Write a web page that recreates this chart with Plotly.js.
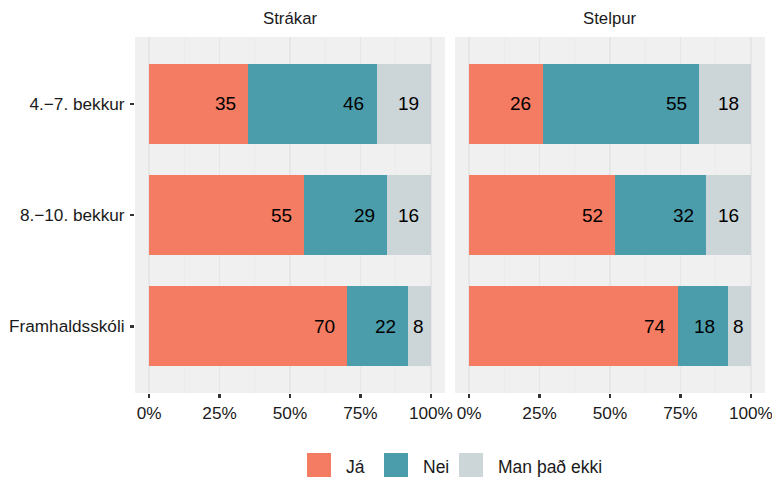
<!DOCTYPE html>
<html><head><meta charset="utf-8">
<script src="https://cdn.plot.ly/plotly-3.0.1.min.js"></script>
<style>html,body{margin:0;padding:0;background:#fff}#chart{width:772px;height:477px}</style>
</head><body><div id="chart"></div>
<script>
const categories = ["4.−7. bekkur", "8.−10. bekkur", "Framhaldsskóli"];
const panels = ["Strákar", "Stelpur"];
const seriesNames = ["Já", "Nei", "Man það ekki"];
const seriesColors = ["#F47C62", "#4C9DAB", "#CCD5D7"];
// values in percent, per panel
const straakarJa = [35.1, 55, 70.4];
const straakarNei = [45.6, 29.3, 21.6];
const straakarMan = [19.3, 15.7, 8.0];
const stelpurJa = [26.2, 51.8, 74.1];
const stelpurNei = [55.4, 32.3, 17.6];
const stelpurMan = [18.4, 15.9, 8.3];

const panelData = [[straakarJa, straakarNei, straakarMan], [stelpurJa, stelpurNei, stelpurMan]];
const font = "Liberation Sans, Arial, sans-serif";
const labelSize = 19;
const traces = [];
const annotations = [];
panelData.forEach((series, p) => {
  const xa = p === 0 ? "x" : "x2", ya = p === 0 ? "y" : "y2";
  const cum = categories.map(() => 0);
  series.forEach((vals, s) => {
    traces.push({
      type: "bar", orientation: "h",
      y: categories, x: vals.map(v => v / 100),
      name: seriesNames[s], showlegend: false,
      marker: {color: seriesColors[s], line: {width: 0}},
      width: 0.72, hoverinfo: "skip",
      xaxis: xa, yaxis: ya
    });
    vals.forEach((v, i) => {
      cum[i] += v;
      const t = String(Math.round(v));
      annotations.push({
        text: t, xref: xa, yref: ya, x: cum[i] / 100, y: categories[i],
        xanchor: "right", yanchor: "middle", borderpad: 0, borderwidth: 0,
        xshift: -(1.5 + 0.5 * t.length * labelSize * 0.556), yshift: 0, showarrow: false,
        font: {family: font, size: labelSize, color: "#000"}
      });
    });
  });
});

function xax(domain, anchor) {
  return {
    domain: domain, anchor: anchor, range: [-0.05, 1.05], fixedrange: true,
    tickvals: [0, 0.25, 0.5, 0.75, 1], ticktext: ["0%", "25%", "50%", "75%", "100%"],
    ticks: "outside", ticklen: 4, tickwidth: 2.5, tickcolor: "#333",
    tickfont: {family: font, size: 17.2, color: "#1a1a1a"},
    ticklabeloverflow: "allow",
    showgrid: true, gridcolor: "#E6E6E6", gridwidth: 1.2,
    minor: {tickvals: [0.125, 0.375, 0.625, 0.875], showgrid: true, gridcolor: "#EAEAEA", gridwidth: 0.8, ticks: ""},
    zeroline: false, showline: false
  };
}
function yax(anchor, show) {
  return {
    anchor: anchor, categoryorder: "array", categoryarray: categories.slice(),
    autorange: false, range: [2.6, -0.6],
    showticklabels: show, ticks: show ? "outside" : "", ticklen: 4, tickwidth: 2.5, tickcolor: "#333",
    tickfont: {family: font, size: 17.2, color: "#1a1a1a"},
    showgrid: false, zeroline: false, showline: false, ticklabelstandoff: 2
  };
}

const d1 = [0, 310 / 630], d2 = [320 / 630, 1];
const shapes = [
  {type: "rect", xref: "paper", yref: "paper", x0: d1[0], x1: d1[1], y0: 0, y1: 1, fillcolor: "#F0F0F0", line: {width: 0}, layer: "below"},
  {type: "rect", xref: "paper", yref: "paper", x0: d2[0], x1: d2[1], y0: 0, y1: 1, fillcolor: "#F0F0F0", line: {width: 0}, layer: "below"},
  {type: "line", xref: "x", yref: "paper", x0: 0.5, x1: 0.5, y0: 0, y1: 1, line: {color: "#BEBEBE", width: 2}, layer: "below"},
  {type: "line", xref: "x2", yref: "paper", x0: 0.5, x1: 0.5, y0: 0, y1: 1, line: {color: "#BEBEBE", width: 2}, layer: "below"}
];
annotations.push(
  {text: panels[0], xref: "paper", yref: "paper", x: (d1[0] + d1[1]) / 2, xanchor: "center", y: 1, yanchor: "bottom", yshift: 7, showarrow: false, font: {family: font, size: 16.8, color: "#1a1a1a"}},
  {text: panels[1], xref: "paper", yref: "paper", x: (d2[0] + d2[1]) / 2, xanchor: "center", y: 1, yanchor: "bottom", yshift: 7, showarrow: false, font: {family: font, size: 16.8, color: "#1a1a1a"}}
);
// legend (manual, ggplot-style boxes)
const legX = [307, 384, 459];
const plotL = 135, plotW = 630, plotT = 37, plotH = 356;
seriesNames.forEach((n, i) => {
  const x0 = (legX[i] - plotL) / plotW, x1 = (legX[i] + 24 - plotL) / plotW;
  const yTop = -(453 - plotT - plotH) / plotH, yBot = -(477 - plotT - plotH) / plotH;
  shapes.push({type: "rect", xref: "paper", yref: "paper", x0: x0, x1: x1, y0: yBot, y1: yTop, fillcolor: seriesColors[i], line: {width: 0}});
  annotations.push({text: n, xref: "paper", yref: "paper", x: (legX[i] + 37 - plotL) / plotW, xanchor: "left",
    y: -(467 - plotT - plotH) / plotH, yanchor: "middle", showarrow: false, font: {family: font, size: 17.5, color: "#1a1a1a"}});
});

const layout = {
  width: 772, height: 477, margin: {l: 135, r: 7, t: 37, b: 84},
  paper_bgcolor: "#fff", plot_bgcolor: "rgba(0,0,0,0)",
  barmode: "stack", showlegend: false,
  xaxis: xax(d1, "y"), xaxis2: xax(d2, "y2"),
  yaxis: yax("x", true), yaxis2: yax("x2", false),
  shapes: shapes, annotations: annotations
};
Plotly.newPlot("chart", traces, layout, {staticPlot: true, displayModeBar: false});
</script></body></html>
